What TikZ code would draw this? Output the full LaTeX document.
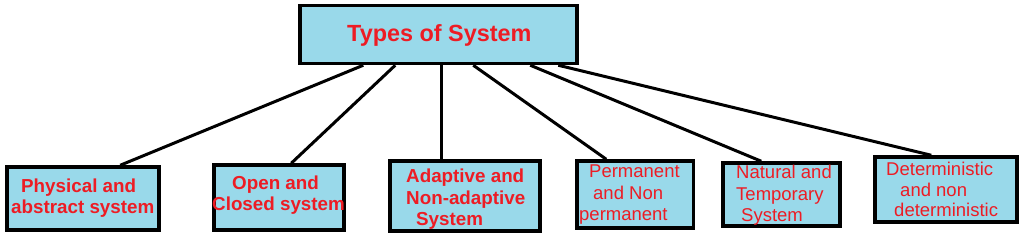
\documentclass[tikz,border=0pt]{standalone}
\usepackage{fontspec}
\setmainfont{Liberation Sans}
\definecolor{boxfill}{HTML}{99D9EA}
\definecolor{txtred}{HTML}{ED1C24}
\tikzset{
  box/.style={draw=black, fill=boxfill, line width=3.5pt, inner sep=0pt, rectangle},
  conn/.style={draw=black, line width=3pt},
  boldtxt/.style={text=txtred, inner sep=0pt, anchor=base west, font=\fontsize{18.8}{22}\selectfont\bfseries},
  regtxt/.style={text=txtred, inner sep=0pt, anchor=base west, font=\fontsize{18.5}{21}\selectfont},
  toptxt/.style={text=txtred, inner sep=0pt, anchor=base west, font=\fontsize{23.4}{27}\selectfont\bfseries}
}
\begin{document}
\begin{tikzpicture}[x=1pt, y=-1pt]
\useasboundingbox (0,0) rectangle (1024,235);
% boxes
\node[box, minimum width=277pt, minimum height=58pt] (top) at (438.5,34.5) {};
\node[box, minimum width=152pt, minimum height=63pt] (b1) at (83,198.5) {};
\node[box, minimum width=130pt, minimum height=65pt] (b2) at (279,197.5) {};
\node[box, minimum width=150pt, minimum height=70pt] (b3) at (465,196) {};
\node[box, minimum width=116.5pt, minimum height=67pt] (b4) at (635.25,194.5) {};
\node[box, minimum width=117pt, minimum height=63pt] (b5) at (781.5,194.5) {};
\node[box, minimum width=142pt, minimum height=65pt] (b6) at (946,189.5) {};
% connectors
\draw[conn] ([xshift=65pt]top.south west) -- ([xshift=115pt]b1.north west);
\draw[conn] ([xshift=97pt]top.south west) -- ([xshift=79pt]b2.north west);
\draw[conn] ([xshift=143.5pt]top.south west) -- ([xshift=53.5pt]b3.north west);
\draw[conn] ([xshift=175pt]top.south west) -- ([xshift=31pt]b4.north west);
\draw[conn] ([xshift=232pt]top.south west) -- ([xshift=40pt]b5.north west);
\draw[conn] ([xshift=260pt]top.south west) -- ([xshift=58pt]b6.north west);
% texts
\node[toptxt] (t0) at (347,42) {Types of System};
\node[boldtxt] (t1a) at (21,192) {Physical and};
\node[boldtxt] (t1b) at (11,213) {abstract system};
\node[boldtxt] (t2a) at (232,189.5) {Open and};
\node[boldtxt] (t2b) at (212,210.7) {Closed system};
\node[boldtxt] (t3a) at (406,182.3) {Adaptive and};
\node[boldtxt] (t3b) at (406,204) {Non-adaptive};
\node[boldtxt] (t3c) at (416,225) {System};
\node[regtxt] (t4a) at (589,177.7) {Permanent};
\node[regtxt] (t4b) at (593,199) {and Non};
\node[regtxt] (t4c) at (579,220) {permanent};
\node[regtxt] (t5a) at (736,178.3) {Natural and};
\node[regtxt] (t5b) at (736,200) {Temporary};
\node[regtxt] (t5c) at (741,221.7) {System};
\node[regtxt] (t6a) at (886,175) {Deterministic};
\node[regtxt] (t6b) at (900,196) {and non};
\node[regtxt] (t6c) at (894,216) {deterministic};
\end{tikzpicture}
\end{document}
